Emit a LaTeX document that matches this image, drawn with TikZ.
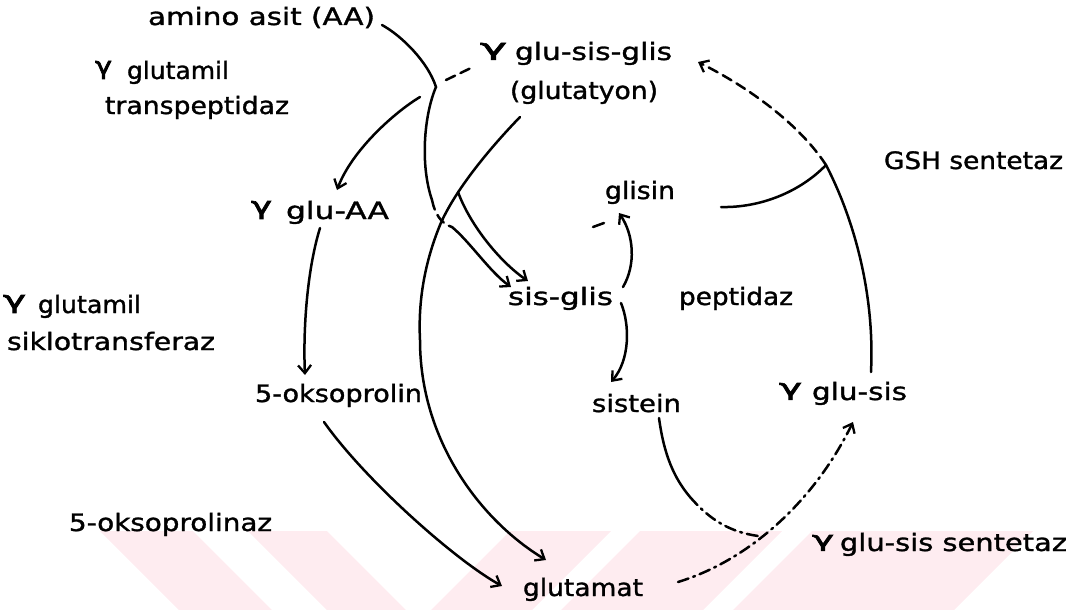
\documentclass[tikz,border=0pt]{standalone}
\usepackage{fontspec}
\setmainfont{DejaVu Sans}[FakeBold=1.2]
\newfontfamily\gfont{DejaVu Sans}[FakeBold=2.5]
\usepackage{graphicx}
\usetikzlibrary{arrows.meta}
\definecolor{wm}{RGB}{254,236,240}
\newcommand\lbl[2]{\resizebox{#1pt}{\height}{#2}}
\newcommand\gam[2]{\resizebox{#1pt}{#2pt}{\raisebox{0.21em}{\gfont γ}}}
\begin{document}
\begin{tikzpicture}[x=1pt,y=-1pt,
  lab/.style={anchor=base west,inner sep=0pt,outer sep=0pt,font=\fontsize{24}{28}\selectfont},
  con/.style={line width=2.5pt,line cap=round},
  arr/.style={con,-{Straight Barb[length=8pt,width=13pt,line width=2.3pt]}},
  dsh/.style={dash pattern=on 10pt off 6pt},
  dd/.style={dash pattern=on 11pt off 5pt on 2pt off 5pt}]
\useasboundingbox (0,0) rectangle (1077,610);
% watermark band
\fill[wm] (100,531) -- (193,531) -- (272,610) -- (179,610) -- cycle;
\fill[wm] (248,531) -- (327,531) -- (406,610) -- (327,610) -- cycle;
\fill[wm] (510,531) -- (611,531) -- (532,610) -- (431,610) -- cycle;
\fill[wm] (640,531) -- (782,531) -- (703,610) -- (561,610) -- cycle;
\fill[wm] (812,531) -- (1033,531) -- (954,610) -- (733,610) -- cycle;
% labels
\node[lab] (aa) at (148,25) {\lbl{227}{amino asit (AA)}};
\node[lab] (g1) at (95,79) {\gam{17}{18}};
\node[lab] (tp1) at (127,79) {\lbl{102}{glutamil}};
\node[lab] (tp2) at (105,114) {\lbl{184}{transpeptidaz}};
\node[lab] (g2) at (480,60) {\gam{27}{17}};
\node[lab] (gsg) at (515,60) {\lbl{157}{glu-sis-glis}};
\node[lab] (gtn) at (510,99) {\lbl{148}{(glutatyon)}};
\node[lab] (gsh) at (884,169) {\lbl{179}{GSH sentetaz}};
\node[lab] (g3) at (251,219) {\gam{21}{18}};
\node[lab] (gaa) at (286,219) {\lbl{103}{glu-AA}};
\node[lab] (gly) at (605,199) {\lbl{70}{glisin}};
\node[lab] (g4) at (3,313) {\gam{23}{18}};
\node[lab] (sk1) at (38,313) {\lbl{103}{glutamil}};
\node[lab] (sk2) at (7,350) {\lbl{208}{siklotransferaz}};
\node[lab] (sg) at (508,305) {\lbl{105}{sis-glis}};
\node[lab] (pep) at (679,305) {\lbl{114}{peptidaz}};
\node[lab] (okp) at (255,402) {\lbl{167}{5-oksoprolin}};
\node[lab] (sis) at (592,412) {\lbl{89}{sistein}};
\node[lab] (g5) at (779,400) {\gam{23}{17}};
\node[lab] (gs) at (812,400) {\lbl{95}{glu-sis}};
\node[lab] (okz) at (69,531) {\lbl{203}{5-oksoprolinaz}};
\node[lab] (g6) at (812,551) {\gam{22}{16}};
\node[lab] (gss) at (840,551) {\lbl{227}{glu-sis sentetaz}};
\node[lab] (glu) at (523,596) {\lbl{120}{glutamat}};
% connector end points
\coordinate (aaE) at (382,25);
\coordinate (cusp) at (436,87);
\coordinate (c1) at (432,200);
\coordinate (c2) at (452,227);
\coordinate (sgA) at (511,287);
\coordinate (cuspB) at (446,80);
\coordinate (gtnA) at (473,67);
\coordinate (cuspC) at (420,97);
\coordinate (gaaN) at (337,190);
\coordinate (gtnS) at (520,117);
\coordinate (arc1) at (440,225);
\coordinate (arc2) at (420,340);
\coordinate (gluA) at (546,560);
\coordinate (br) at (458,192);
\coordinate (sgB) at (528,281);
\coordinate (gaaS) at (320,228);
\coordinate (okpN) at (305,375);
\coordinate (okpS) at (324,422);
\coordinate (gluW) at (502,586);
\coordinate (sgR1) at (623,287);
\coordinate (glyS) at (619,213);
\coordinate (sgR2) at (621,303);
\coordinate (sisN) at (611,382);
\coordinate (gsN) at (871,372);
\coordinate (junc) at (826,165);
\coordinate (gtnE) at (698,62);
\coordinate (glyE) at (721,207);
\coordinate (gluE) at (678,582);
\coordinate (gsS) at (853,422);
\coordinate (sisS) at (659,418);
\coordinate (sisM) at (690,497);
\coordinate (meet) at (758,536);
% transpeptidase
\draw[con] (aaE) .. controls (402,36) and (428,62) .. (cusp)
  .. controls (424,115) and (420,165) .. (c1);
\draw[con,dsh] (c1) .. controls (435,215) and (442,224) .. (c2);
\draw[arr] (c2) .. controls (470,242) and (490,272) .. (sgA);
\draw[con,dsh] (cuspB) -- (gtnA);
\draw[arr] (cuspC) .. controls (395,112) and (352,150) .. (gaaN);
% glutathione -> glutamat
\draw[arr] (gtnS) .. controls (490,148) and (455,190) .. (arc1)
  .. controls (425,262) and (418,300) .. (arc2)
  .. controls (420,440) and (480,520) .. (gluA);
\draw[arr] (br) .. controls (470,225) and (500,262) .. (sgB);
% cyclotransferase, oxoprolinase
\draw[arr] (gaaS) .. controls (307,270) and (303,330) .. (okpN);
\draw[arr] (okpS) .. controls (365,480) and (455,560) .. (gluW);
% peptidase
\draw[arr] (sgR1) .. controls (636,265) and (634,235) .. (glyS);
\draw[arr] (sgR2) .. controls (630,325) and (630,360) .. (sisN);
\draw[con] (593,227) -- (604,223);
% GSH synthetase
\draw[con] (gsN) .. controls (875,290) and (852,215) .. (junc);
\draw[arr,dsh] (junc) .. controls (800,125) and (750,88) .. (gtnE);
\draw[con] (glyE) .. controls (760,208) and (800,192) .. (junc);
% gamma-glu-cys synthetase
\draw[arr,dd] (gluE) .. controls (750,560) and (815,500) .. (gsS);
\draw[con] (sisS) .. controls (664,455) and (674,478) .. (sisM);
\draw[con,dd] (sisM) .. controls (710,520) and (730,532) .. (meet);
\end{tikzpicture}
\end{document}
